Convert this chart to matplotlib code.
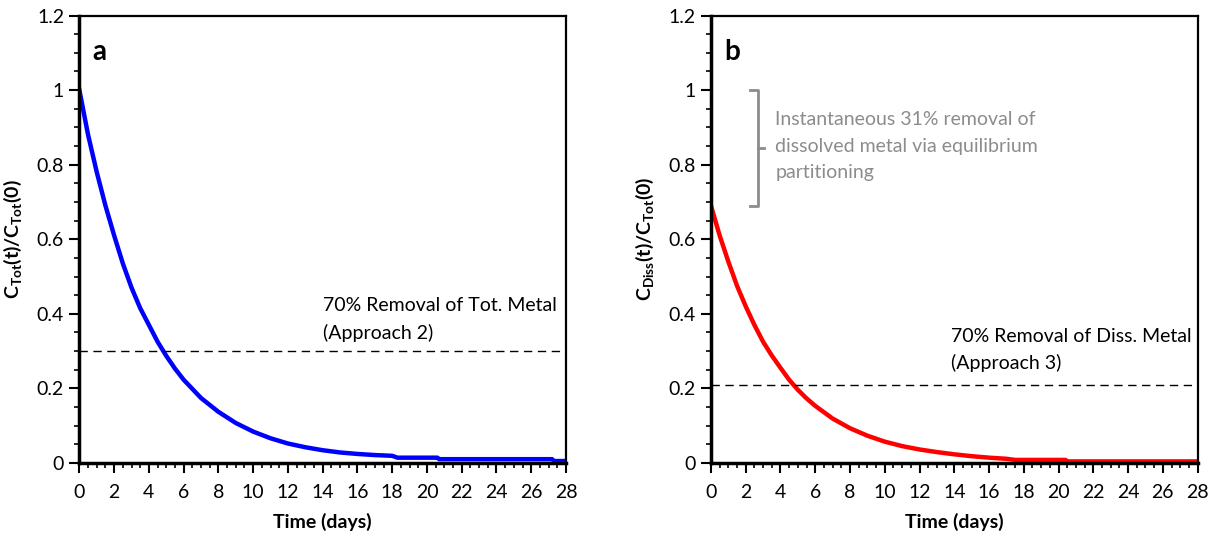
import numpy as np
import matplotlib
matplotlib.use('Agg')
import matplotlib.pyplot as plt
from matplotlib.ticker import MultipleLocator

plt.rcParams['font.family'] = ['Lato', 'DejaVu Sans']
plt.rcParams['mathtext.fontset'] = 'custom'
plt.rcParams['mathtext.rm'] = 'Lato'
plt.rcParams['mathtext.bf'] = 'Lato:bold'

# panel a: total metal, C_Tot(t)/C_Tot(0)
t_tot = [0, 0.5, 1, 1.5, 2, 2.5, 3, 3.5, 4, 4.5, 5, 5.5, 6, 7, 8, 9, 10, 11, 12,
         13, 14, 15, 16, 17, 18, 18.3, 20.6, 20.7, 27.2, 27.3, 28]
c_tot = [1.0, 0.88, 0.78, 0.69, 0.61, 0.535, 0.47, 0.415, 0.37, 0.325, 0.287, 0.253,
         0.223, 0.174, 0.137, 0.107, 0.084, 0.066, 0.052, 0.042, 0.034, 0.028, 0.024,
         0.021, 0.019, 0.014, 0.014, 0.01, 0.01, 0.005, 0.005]

# panel b: dissolved metal, C_Diss(t)/C_Tot(0)
t_diss = [0, 0.5, 1, 1.5, 2, 2.5, 3, 3.5, 4, 4.5, 5, 5.5, 6, 7, 8, 9, 10, 11, 12,
          13, 14, 15, 16, 17, 17.5, 20.4, 20.5, 28]
c_diss = [0.69, 0.61, 0.54, 0.475, 0.42, 0.37, 0.325, 0.288, 0.255, 0.223, 0.196, 0.173,
          0.153, 0.119, 0.093, 0.073, 0.057, 0.045, 0.036, 0.029, 0.023, 0.018, 0.014,
          0.011, 0.008, 0.008, 0.004, 0.004]

target_tot = 0.3
target_diss = 0.21
x_ticks = list(range(0, 29, 2))
y_ticks = [0, 0.2, 0.4, 0.6, 0.8, 1, 1.2]
y_ticklabels = ['0', '0.2', '0.4', '0.6', '0.8', '1', '1.2']

fig = plt.figure(figsize=(12.12, 5.37), dpi=100)
ax1 = fig.add_axes([0.0655, 0.138, 0.4015, 0.833])
ax2 = fig.add_axes([0.5866, 0.138, 0.4015, 0.833])


def style(ax):
	ax.set_xlim(0, 28)
	ax.set_ylim(0, 1.2)
	ax.set_xticks(x_ticks)
	ax.set_yticks(y_ticks)
	ax.set_yticklabels(y_ticklabels)
	ax.xaxis.set_minor_locator(MultipleLocator(0.5))
	ax.yaxis.set_minor_locator(MultipleLocator(0.05))
	ax.tick_params(which='major', direction='out', length=7, width=1.5, labelsize=14, pad=4)
	ax.tick_params(which='minor', direction='out', length=3.5, width=1.2)
	ax.tick_params(axis='x', pad=8)
	for s in ax.spines.values():
		s.set_linewidth(1.6)
	ax.spines['left'].set_linewidth(2.5)
	ax.spines['bottom'].set_linewidth(2.5)
	ax.set_xlabel('Time (days)', fontsize=14, fontweight='bold', labelpad=9)


# panel a
style(ax1)
ax1.plot(t_tot, c_tot, color='#0000ff', lw=3.2, solid_joinstyle='round')
ax1.axhline(target_tot, color='black', lw=1, ls=(0, (6, 4)))
ax1.text(14.0, 0.421, '70% Removal of Tot. Metal', fontsize=14, va='center')
ax1.text(14.0, 0.349, '(Approach 2)', fontsize=14, va='center')
ax1.text(0.75, 1.103, 'a', fontsize=20, fontweight='bold', va='center')
ax1.set_ylabel(r'$\mathbf{C_{Tot}(t)/C_{Tot}(0)}$', fontsize=14, labelpad=9)

# panel b
style(ax2)
ax2.plot(t_diss, c_diss, color='#ff0000', lw=3.2, solid_joinstyle='round')
ax2.axhline(target_diss, color='black', lw=1, ls=(0, (6, 4)))
ax2.text(13.8, 0.338, '70% Removal of Diss. Metal', fontsize=14, va='center')
ax2.text(13.8, 0.268, '(Approach 3)', fontsize=14, va='center')
ax2.text(0.75, 1.103, 'b', fontsize=20, fontweight='bold', va='center')
ax2.set_ylabel(r'$\mathbf{C_{Diss}(t)/C_{Tot}(0)}$', fontsize=14, labelpad=9)

# bracket for the instantaneous partitioning step
gray = '#8c8c8c'
ax2.plot([2.25, 2.7, 2.7, 2.25], [1.0, 1.0, 0.69, 0.69], color=gray, lw=2)
ax2.plot([2.7, 3.05], [0.845, 0.845], color=gray, lw=2)
ax2.text(3.7, 0.92, 'Instantaneous 31% removal of', fontsize=14, color=gray, va='center')
ax2.text(3.7, 0.85, 'dissolved metal via equilibrium', fontsize=14, color=gray, va='center')
ax2.text(3.7, 0.78, 'partitioning', fontsize=14, color=gray, va='center')

fig.savefig('out.png', dpi=100)
